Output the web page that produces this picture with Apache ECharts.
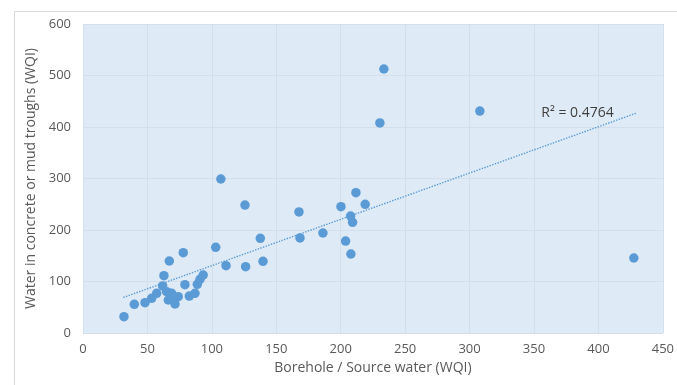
<!DOCTYPE html>
<html>
<head>
<meta charset="utf-8">
<script src="https://cdn.jsdelivr.net/npm/echarts@6/dist/echarts.min.js"></script>
<style>
  html, body { margin: 0; padding: 0; background: #fff; }
  #chart-container { width: 677px; height: 385px; }
</style>
</head>
<body>
<div id="chart-container"></div>
<script>
// borehole / source water WQI (x) vs trough water WQI (y)
var boreholeWQI = [31.8, 39.8, 48.1, 53.3, 57.2, 61.8, 62.8, 64.9, 66.2, 67.0,
    68.8, 70.1, 71.4, 73.9, 77.8, 79.1, 82.5, 86.9, 88.7, 90.8,
    93.3, 103, 107, 111, 125.7, 126.2, 137.6, 139.7, 167.6, 168.4,
    186.2, 200.2, 203.8, 207.7, 209.2, 207.9, 211.8, 219, 230.4, 233.5,
    308, 427.5];
var troughWQI = [31.7, 55.7, 58.8, 67.4, 77.1, 91.3, 111.3, 80.2, 64.1, 139.8,
    77.1, 65.4, 56.3, 70.5, 155.9, 93.8, 71.8, 77.1, 94.6, 104.3,
    112.6, 166.4, 299, 130.7, 248.5, 128.7, 183.9, 139.2, 235, 184.5,
    194.2, 245.2, 178.6, 227.2, 215, 153.4, 272.4, 249.9, 407.8, 512.6,
    431, 145.6];
// linear trendline end points as drawn in the picture
var trendX = [31.3, 429];
var trendY = [69, 426.6];
var rSquaredText = 'R² = 0.4764';

var xTicks = [0, 450, 50];
var yTicks = [0, 600, 100];

var points = boreholeWQI.map(function (x, i) { return [x, troughWQI[i]]; });
var trend = trendX.map(function (x, i) {
    var d = { value: [x, trendY[i]] };
    if (i === trendX.length - 1) {
        d.label = {
            show: true,
            position: 'left',
            distance: 22,
            formatter: rSquaredText,
            color: '#404040',
            fontSize: 14,
            fontFamily: 'Open Sans'
        };
    }
    return d;
});

var dom = document.getElementById('chart-container');
var myChart = echarts.init(dom, null, { renderer: 'canvas' });

var axisText = { color: '#595959', fontSize: 13, fontFamily: 'Open Sans' };
var gridLine = { lineStyle: { color: '#d3dfeb', width: 1 } };

var option = {
    animation: false,
    graphic: [{
        type: 'rect',
        shape: { x: 14.5, y: 11.5, width: 700, height: 400 },
        style: { fill: 'none', stroke: '#d9d9d9', lineWidth: 1 },
        silent: true
    }],
    grid: {
        left: 83,
        right: 14,
        top: 24,
        bottom: 52,
        show: true,
        backgroundColor: '#deeaf6',
        borderWidth: 0
    },
    xAxis: {
        type: 'value',
        min: xTicks[0],
        max: xTicks[1],
        interval: xTicks[2],
        name: 'Borehole / Source water (WQI)',
        nameLocation: 'middle',
        nameGap: 26,
        nameTextStyle: { color: '#595959', fontSize: 14, fontFamily: 'Open Sans' },
        axisLine: { show: false },
        axisTick: { show: false },
        axisLabel: Object.assign({ margin: 10 }, axisText),
        splitLine: gridLine
    },
    yAxis: {
        type: 'value',
        min: yTicks[0],
        max: yTicks[1],
        interval: yTicks[2],
        name: 'Water in concrete or mud troughs (WQI)',
        nameLocation: 'middle',
        nameGap: 35,
        nameTextStyle: { color: '#595959', fontSize: 14, fontFamily: 'Open Sans' },
        axisLine: { show: false },
        axisTick: { show: false },
        axisLabel: Object.assign({ margin: 12 }, axisText),
        splitLine: gridLine
    },
    series: [
        {
            type: 'scatter',
            data: points,
            symbolSize: 9.5,
            itemStyle: { color: '#5b9bd5', opacity: 1 }
        },
        {
            type: 'line',
            data: trend,
            showSymbol: true,
            symbolSize: 0,
            lineStyle: { color: '#5b9bd5', width: 1.4, type: 'dotted' },
            itemStyle: { color: '#5b9bd5' },
            z: 1
        }
    ]
};

myChart.setOption(option);
window.addEventListener('resize', myChart.resize);
</script>
</body>
</html>
